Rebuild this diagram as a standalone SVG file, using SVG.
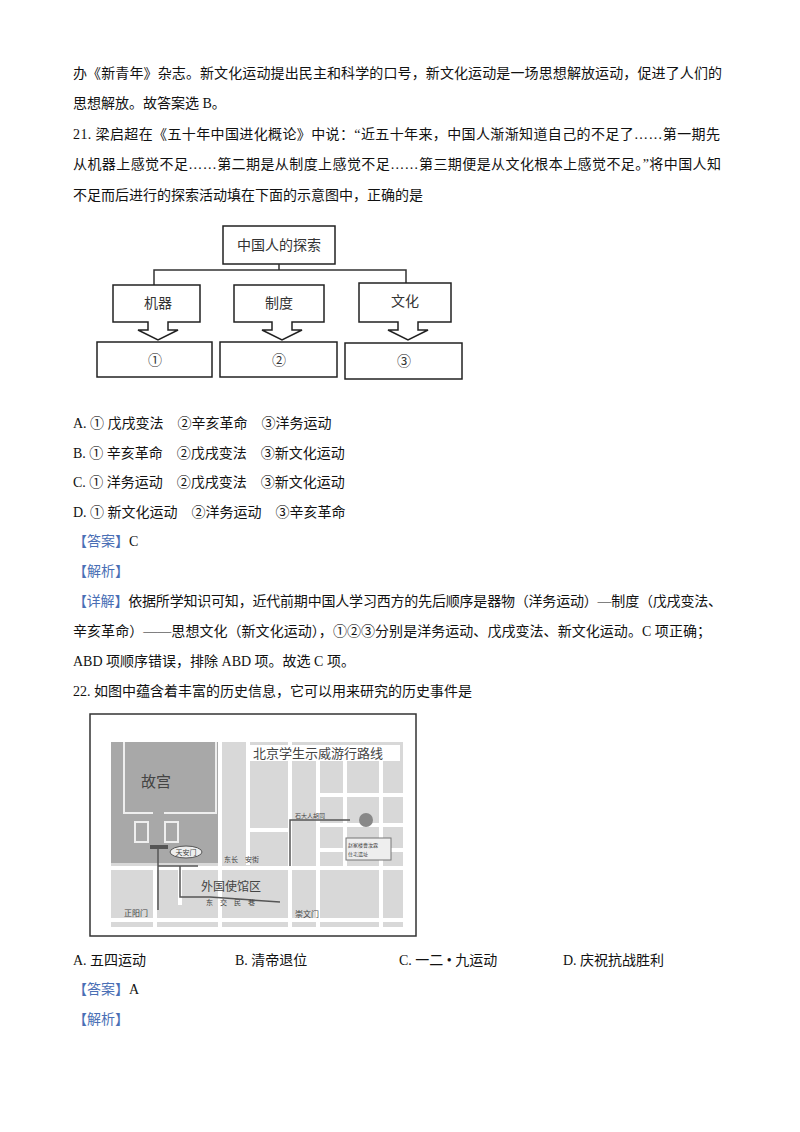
<svg xmlns="http://www.w3.org/2000/svg" width="800" height="1132" viewBox="0 0 800 1132">
<style>
.t{font-family:"Liberation Serif","Noto Sans CJK SC",serif;font-size:14px;fill:#111}
.b{fill:#fff;stroke:#222;stroke-width:1.5}
.d{font-family:"Noto Sans CJK SC",sans-serif;font-size:14px;fill:#333}
.m{font-family:"Noto Sans CJK SC",sans-serif;fill:#444}
.st{stroke:#fff;stroke-width:4;fill:none}
.bl{fill:#4a6fb5}
</style>
<rect width="800" height="1132" fill="#fff"/>
<text class="t" x="73" y="78" textLength="649" lengthAdjust="spacing">办《新青年》杂志。新文化运动提出民主和科学的口号，新文化运动是一场思想解放运动，促进了人们的</text>
<text class="t" x="73" y="108">思想解放。故答案选 B。</text>
<text class="t" x="73" y="139" textLength="647" lengthAdjust="spacing">21. 梁启超在《五十年中国进化概论》中说：“近五十年来，中国人渐渐知道自己的不足了……第一期先</text>
<text class="t" x="73" y="169" textLength="648" lengthAdjust="spacing">从机器上感觉不足……第二期是从制度上感觉不足……第三期便是从文化根本上感觉不足。”将中国人知</text>
<text class="t" x="73" y="200">不足而后进行的探索活动填在下面的示意图中，正确的是</text>
<g id="diagram">
<g id="top"><rect class="b" x="223" y="226" width="112" height="38"/><text class="d" x="279" y="250" text-anchor="middle">中国人的探索</text></g>
<g id="connectors" fill="none" stroke="#333" stroke-width="1.5">
<path d="M279 264V270M154 285V270H406V285"/>
</g>
<g id="n1"><path class="b" d="M113 285H200V322H168V330L178 330L158 340L138 330L148 330V322H113Z"/><text class="d" x="158" y="308" text-anchor="middle">机器</text></g>
<g id="n2"><path class="b" d="M234 285H324V322H292V330L302 330L282 340L262 330L272 330V322H234Z"/><text class="d" x="279" y="308" text-anchor="middle">制度</text></g>
<g id="n3"><path class="b" d="M359 283H451V322H418V330L428 330L408 340L388 330L398 330V322H359Z"/><text class="d" x="405" y="306" text-anchor="middle">文化</text></g>
<g id="r1"><rect class="b" x="97" y="342" width="115" height="35"/><text class="d" x="155" y="365" text-anchor="middle">①</text></g>
<g id="r2"><rect class="b" x="220" y="342" width="117" height="35"/><text class="d" x="279" y="365" text-anchor="middle">②</text></g>
<g id="r3"><rect class="b" x="345" y="343" width="117" height="36"/><text class="d" x="404" y="366" text-anchor="middle">③</text></g>
</g>
<text class="t" x="73" y="428">A. ① 戊戌变法　②辛亥革命　③洋务运动</text>
<text class="t" x="73" y="458">B. ① 辛亥革命　②戊戌变法　③新文化运动</text>
<text class="t" x="73" y="487">C. ① 洋务运动　②戊戌变法　③新文化运动</text>
<text class="t" x="73" y="517">D. ① 新文化运动　②洋务运动　③辛亥革命</text>
<text class="t" x="73" y="546"><tspan class="bl">【答案】</tspan>C</text>
<text class="t" x="73" y="576"><tspan class="bl">【解析】</tspan></text>
<text class="t" x="73" y="606" textLength="649" lengthAdjust="spacing"><tspan class="bl">【详解】</tspan>依据所学知识可知，近代前期中国人学习西方的先后顺序是器物（洋务运动）—制度（戊戌变法、</text>
<text class="t" x="73" y="636" textLength="638" lengthAdjust="spacing">辛亥革命）——思想文化（新文化运动），①②③分别是洋务运动、戊戌变法、新文化运动。C 项正确；</text>
<text class="t" x="73" y="666">ABD 项顺序错误，排除 ABD 项。故选 C 项。</text>
<text class="t" x="73" y="696">22. 如图中蕴含着丰富的历史信息，它可以用来研究的历史事件是</text>
<g id="map">
<rect x="90" y="714" width="326" height="222" fill="#fff" stroke="#333" stroke-width="1.5"/>
<rect x="111" y="742" width="292" height="185" fill="#d8d8d8"/>
<rect x="111" y="742" width="107" height="121" fill="#a8a8a8"/>
<path d="M124 742V813H153M164 813H216V742" fill="none" stroke="#eee" stroke-width="2"/>
<rect x="135" y="822" width="13" height="20" fill="none" stroke="#eee" stroke-width="2"/>
<rect x="165" y="822" width="13" height="20" fill="none" stroke="#eee" stroke-width="2"/>
<text class="m" x="156" y="787" font-size="15" text-anchor="middle" fill="#222">故宫</text>
<path class="st" d="M220 742V927M248 742V865M111 868H403M111 920H403M290 742V927M318 760V927M345 760V868M381 760V927M318 795H403M318 825H403M318 850H403M248 830H290M155 868V927M180 868V905"/>
<ellipse cx="186" cy="852" rx="16" ry="6" fill="#eee" stroke="#555"/>
<text class="m" x="186" y="855" font-size="7" text-anchor="middle">天安门</text>
<rect x="150" y="845" width="18" height="4" fill="#555"/>
<rect x="250" y="745" width="150" height="16" fill="#fff"/>
<text class="m" x="253" y="758" font-size="13" fill="#222">北京学生示威游行路线</text>
<path d="M158 849V910M158 866H198M180 866V897H210L280 902M290 866V820H350" fill="none" stroke="#555" stroke-width="1.5"/>
<circle cx="366" cy="820" r="7" fill="#888"/>
<rect x="346" y="838" width="45" height="22" fill="#eee" stroke="#777"/>
<text class="m" x="348" y="847" font-size="5">赵家楼曹汝霖</text>
<text class="m" x="348" y="856" font-size="5">住宅遗址</text>
<text class="m" x="295" y="818" font-size="6">石大人胡同</text>
<text class="m" x="224" y="862" font-size="7">东长　安街</text>
<text class="m" x="201" y="891" font-size="12" fill="#333">外国使馆区</text>
<text class="m" x="206" y="905" font-size="7">东　交　民　巷</text>
<text class="m" x="124" y="916" font-size="8">正阳门</text>
<text class="m" x="295" y="917" font-size="8">崇文门</text>
</g>
<text class="t" x="73" y="965">A. 五四运动</text>
<text class="t" x="235" y="965">B. 清帝退位</text>
<text class="t" x="399" y="965">C. 一二 • 九运动</text>
<text class="t" x="563" y="965">D. 庆祝抗战胜利</text>
<text class="t" x="73" y="994"><tspan class="bl">【答案】</tspan>A</text>
<text class="t" x="73" y="1024"><tspan class="bl">【解析】</tspan></text>
</svg>
